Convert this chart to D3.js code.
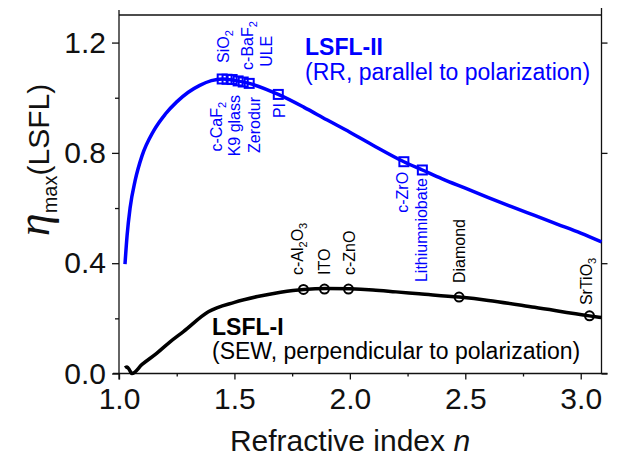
<!DOCTYPE html>
<html><head><meta charset="utf-8">
<script src="https://cdn.jsdelivr.net/npm/d3@7"></script>
<style>
body{margin:0;background:#fff}
svg{display:block}
text{font-family:"Liberation Sans",Arial,Helvetica,sans-serif}
</style>
</head><body>
<svg id="c" width="635" height="456"></svg>
<script>
// ---------- data ----------
const xTicks = [1.0, 1.5, 2.0, 2.5, 3.0];
const xMinorTicks = [1.25, 1.75, 2.25, 2.75];
const yTicks = [0.0, 0.4, 0.8, 1.2];
const yMinorTicks = [0.2, 0.6, 1.0];

// LSFL-II (RR) curve
const rrN   = [1.026,1.035,1.048,1.07,1.10,1.15,1.20,1.25,1.30,1.35,1.40,1.447,1.50,1.564,1.69,1.80,1.90,2.00,2.10,2.234,2.314,2.40,2.50,2.60,2.70,2.80,2.90,3.00,3.09];
const rrEta = [0.397,0.50,0.60,0.70,0.79,0.88,0.94,0.985,1.02,1.045,1.062,1.068,1.063,1.052,1.012,0.966,0.92,0.875,0.828,0.768,0.738,0.706,0.672,0.638,0.605,0.573,0.541,0.509,0.477];

// LSFL-I (SEW) curve
const sewN   = [1.026,1.035,1.046,1.056,1.10,1.163,1.22,1.279,1.387,1.50,1.60,1.70,1.80,1.90,2.00,2.10,2.20,2.30,2.473,2.60,2.80,3.038,3.09];
const sewEta = [0.02,0.024,0.012,0.0,0.033,0.073,0.114,0.152,0.224,0.258,0.279,0.295,0.305,0.308,0.307,0.303,0.296,0.289,0.277,0.265,0.24,0.209,0.203];

// materials on LSFL-II
const rrMaterials = ["c-CaF_2","SiO_2","K9 glass","c-BaF_2","Zerodur","ULE","PI","c-ZrO","Lithiumniobate"];
const rrMatN   = [1.447,1.468,1.49,1.516,1.538,1.564,1.69,2.234,2.314];
const rrMatEta = [1.068,1.067,1.066,1.061,1.057,1.052,1.012,0.768,0.738];

// materials on LSFL-I
const sewMaterials = ["c-Al_2O_3","ITO","c-ZnO","Diamond","SrTiO_3"];
const sewMatN   = [1.799,1.89,1.994,2.473,3.038];
const sewMatEta = [0.305,0.306,0.306,0.277,0.209];

// ---------- layout ----------
const W = 635, H = 456;
const L = 119, R = 601.5, T = 15, B = 373.5;
const blue = "#0000ff", black = "#000";

const svg = d3.select("#c");
const x = d3.scaleLinear().domain([1.0, 3.09]).range([L, R]);
const y = d3.scaleLinear().domain([0, 1.3]).range([B, T]);

// label anchors (data coords) and side: "below" = text hangs down from anchor, "above" = text rises from anchor
const labelLayout = {
  "c-CaF_2":        {n:1.446, e:0.985, side:"below"},
  "K9 glass":       {n:1.524, e:1.010, side:"below"},
  "Zerodur":        {n:1.611, e:1.003, side:"below"},
  "PI":             {n:1.719, e:0.981, side:"below"},
  "c-ZrO":          {n:2.252, e:0.731, side:"below"},
  "Lithiumniobate": {n:2.334, e:0.709, side:"below"},
  "SiO_2":          {n:1.477, e:1.126, side:"above"},
  "c-BaF_2":        {n:1.581, e:1.101, side:"above"},
  "ULE":            {n:1.663, e:1.112, side:"above"},
  "c-Al_2O_3":      {n:1.797, e:0.357, side:"above"},
  "ITO":            {n:1.914, e:0.357, side:"above"},
  "c-ZnO":          {n:2.023, e:0.357, side:"above"},
  "Diamond":        {n:2.499, e:0.328, side:"above"},
  "SrTiO_3":        {n:3.049, e:0.248, side:"above"}
};

// ---------- axes ----------
const axG = svg.append("g").attr("stroke", "#111").attr("stroke-width", 1.3);
// frame lines with slight overshoot
axG.append("line").attr("x1", L).attr("x2", L).attr("y1", T - 5).attr("y2", B + 6);
axG.append("line").attr("x1", L - 6).attr("x2", R + 6).attr("y1", B).attr("y2", B);
axG.append("line").attr("x1", L).attr("x2", R).attr("y1", T).attr("y2", T);
axG.append("line").attr("x1", R).attr("x2", R).attr("y1", T - 7).attr("y2", B);

function styleAxis(g) {
  g.select(".domain").remove();
  g.selectAll(".tick line").attr("stroke", "#111").attr("stroke-width", 1.3);
  g.selectAll(".tick text").attr("fill", "#111").style("font-size", "30px")
   .style("font-family", '"Liberation Sans",Arial,sans-serif');
}
// bottom major
svg.append("g").attr("transform", `translate(0,${B})`)
  .call(d3.axisBottom(x).tickValues(xTicks).tickSize(6).tickPadding(8).tickFormat(d3.format(".1f")))
  .call(styleAxis);
// bottom minor
svg.append("g").attr("transform", `translate(0,${B})`)
  .call(d3.axisBottom(x).tickValues(xMinorTicks).tickSize(3).tickFormat(""))
  .call(styleAxis);
// left major
svg.append("g").attr("transform", `translate(${L},0)`)
  .call(d3.axisLeft(y).tickValues(yTicks).tickSize(7).tickPadding(6).tickFormat(d3.format(".1f")))
  .call(styleAxis);
// left minor
svg.append("g").attr("transform", `translate(${L},0)`)
  .call(d3.axisLeft(y).tickValues(yMinorTicks).tickSize(4).tickFormat(""))
  .call(styleAxis);
// right major (outward)
svg.append("g").attr("transform", `translate(${R},0)`)
  .call(d3.axisRight(y).tickValues(yTicks).tickSize(6).tickFormat(""))
  .call(styleAxis);

// x-axis title
const xt = svg.append("text").attr("x", 350).attr("y", 451).attr("text-anchor", "middle")
  .attr("fill", "#111").style("font-size", "30px");
xt.append("tspan").text("Refractive index ");
xt.append("tspan").style("font-style", "italic").text("n");

// y-axis title
const yt = svg.append("text").attr("transform", "translate(49,160) rotate(-90)")
  .attr("text-anchor", "middle").attr("fill", "#111");
yt.append("tspan").style("font-size", "46px").style("font-style", "italic")
  .style("font-family", '"Liberation Serif","DejaVu Serif",serif').text("η");
yt.append("tspan").style("font-size", "20px").attr("dy", 8).text("max");
yt.append("tspan").style("font-size", "30px").attr("dy", -8).text("(LSFL)");

// ---------- curves ----------
const line = d3.line().x(d => x(d[0])).y(d => y(d[1])).curve(d3.curveMonotoneX);
svg.append("path").datum(d3.zip(rrN, rrEta)).attr("d", line)
  .attr("fill", "none").attr("stroke", blue).attr("stroke-width", 3.5);
svg.append("path").datum(d3.zip(sewN, sewEta)).attr("d", line)
  .attr("fill", "none").attr("stroke", black).attr("stroke-width", 3.5);

// markers
svg.append("g").selectAll("rect").data(d3.zip(rrMatN, rrMatEta)).join("rect")
  .attr("x", d => x(d[0]) - 4.5).attr("y", d => y(d[1]) - 4.5)
  .attr("width", 9).attr("height", 9)
  .attr("fill", "none").attr("stroke", blue).attr("stroke-width", 2);
svg.append("g").selectAll("circle").data(d3.zip(sewMatN, sewMatEta)).join("circle")
  .attr("cx", d => x(d[0])).attr("cy", d => y(d[1])).attr("r", 4.5)
  .attr("fill", "none").attr("stroke", black).attr("stroke-width", 2);

// ---------- rotated material labels ----------
function rotLabel(str, color) {
  const p = labelLayout[str];
  const t = svg.append("text")
    .attr("transform", `translate(${x(p.n)},${y(p.e)}) rotate(-90)`)
    .attr("text-anchor", p.side === "below" ? "end" : "start")
    .attr("fill", color).style("font-size", "16px");
  const parts = str.split(/(_\d)/).filter(s => s);
  let sub = false;
  parts.forEach(s => {
    if (s[0] === "_") {
      t.append("tspan").attr("dy", sub ? 0 : 4).style("font-size", "11px").text(s.slice(1));
      sub = true;
    } else {
      const ts = t.append("tspan").text(s);
      if (sub) { ts.attr("dy", -4); sub = false; }
    }
  });
}
rrMaterials.forEach(m => rotLabel(m, blue));
sewMaterials.forEach(m => rotLabel(m, black));

// ---------- series annotations ----------
svg.append("text").attr("x", 305).attr("y", 55).attr("fill", blue)
  .style("font-size", "23px").style("font-weight", "bold").text("LSFL-II");
svg.append("text").attr("x", 305).attr("y", 80).attr("fill", blue)
  .style("font-size", "23px").text("(RR, parallel to polarization)");
svg.append("text").attr("x", 212).attr("y", 335).attr("fill", black)
  .style("font-size", "23px").style("font-weight", "bold").text("LSFL-I");
svg.append("text").attr("x", 212).attr("y", 359).attr("fill", black)
  .style("font-size", "23px").text("(SEW, perpendicular to polarization)");
</script>
</body></html>
